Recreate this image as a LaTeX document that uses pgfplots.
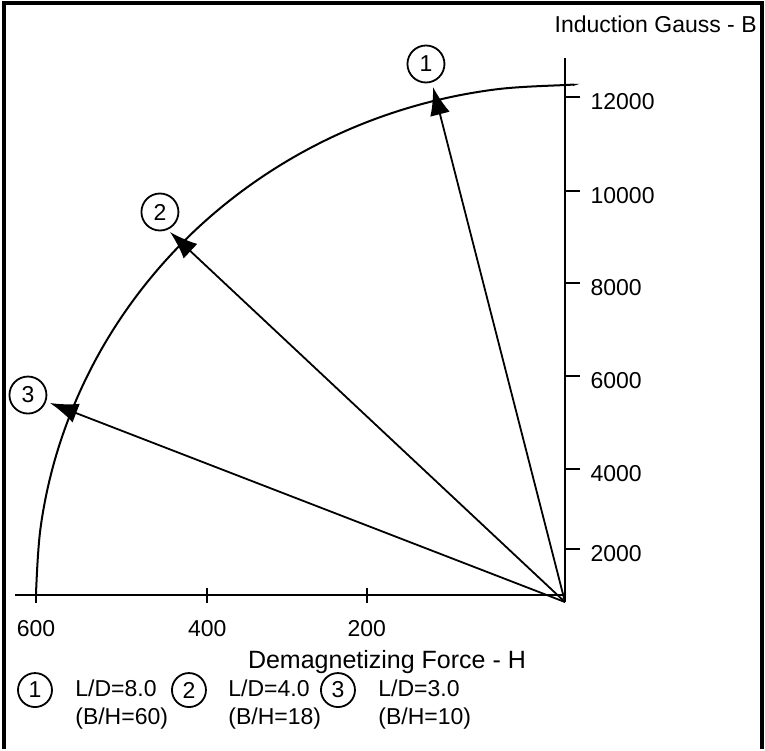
\documentclass[border=0pt]{standalone}
\usepackage{fontspec}
\setmainfont{Liberation Sans}
\usepackage{pgfplots}
\pgfplotsset{compat=1.18}
\usetikzlibrary{arrows.meta}
\begin{document}
\begin{tikzpicture}
\begin{axis}[
  x=0.440833pt, y=0.02075pt,
  x dir=reverse,
  xmin=0, xmax=623.8, ymin=-169, ymax=12940,
  axis lines=middle,
  axis line style={-, line width=1.2pt},
  clip=false,
  scaled x ticks=false, scaled y ticks=false,
  xtick={224.9,405.7,600}, xticklabels={200,400,600},
  ytick={1108,3036,5277,7518,9735,12000},
  yticklabels={2000,4000,6000,8000,10000,12000},
  major tick length=7.5pt,
  every tick/.style={black, line width=1.2pt},
  ytick style={xshift=3.75pt},
  yticklabel style={anchor=west, xshift=13pt, yshift=-2.5pt},
  xticklabel style={anchor=north, yshift=-5.5pt},
  tick label style={font=\fontsize{11.5}{13}\selectfont},
  /pgf/number format/assume math mode=true,
  font=\fontsize{11.5}{13}\selectfont,
]
% picture extent and frame
\path (axis cs:640.8,14337) rectangle (axis cs:-226.8,-3711);
\draw[line width=1.75pt] (axis cs:636.3,-3711) -- (axis cs:636.3,14265) -- (axis cs:-223.4,14265) -- (axis cs:-223.4,-3711);
% demagnetization curve (quarter arc)
\addplot[black, line width=1pt, smooth, tension=0.6] coordinates {
(600,0) (594.9,1604) (579.6,3181) (554.3,4703) (519.6,6145) (476.0,7481)
(424.3,8690) (365.3,9749) (300,10643) (229.6,11354) (155.3,11870)
(78.3,12184) (0,12289) (-9,12288)};
% load lines
\addplot[black, line width=0.9pt, -{Latex[length=14pt,width=10pt]}] coordinates {(0,-169) (149.7,12241)};
\addplot[black, line width=0.9pt, -{Latex[length=14pt,width=10pt]}] coordinates {(0,-169) (448.0,8747)};
\addplot[black, line width=0.9pt, -{Latex[length=14pt,width=10pt]}] coordinates {(0,-169) (584.1,4627)};
% markers
\node[circle, draw, line width=0.9pt, minimum size=18.5pt, inner sep=0pt] at (axis cs:157.7,12795) {1};
\node[circle, draw, line width=0.9pt, minimum size=18.5pt, inner sep=0pt] at (axis cs:459.4,9229) {2};
\node[circle, draw, line width=0.9pt, minimum size=18.5pt, inner sep=0pt] at (axis cs:609.1,4819) {3};
% axis titles
\node[anchor=east, inner sep=0pt] at (axis cs:-217.8,13759) {Induction Gauss - B};
\node[font=\fontsize{12.5}{14}\selectfont] at (axis cs:201.9,-1614) {Demagnetizing Force - H};
% key
\node[circle, draw, line width=0.9pt, minimum size=17pt, inner sep=0pt] at (axis cs:601.1,-2289) {1};
\node[circle, draw, line width=0.9pt, minimum size=17pt, inner sep=0pt] at (axis cs:426.5,-2289) {2};
\node[circle, draw, line width=0.9pt, minimum size=17pt, inner sep=0pt] at (axis cs:257.5,-2289) {3};
\node[anchor=west, align=left, inner sep=0pt, font=\fontsize{11.5}{14}\selectfont] at (axis cs:555.8,-2627) {L/D=8.0\\(B/H=60)};
\node[anchor=west, align=left, inner sep=0pt, font=\fontsize{11.5}{14}\selectfont] at (axis cs:382.2,-2627) {L/D=4.0\\(B/H=18)};
\node[anchor=west, align=left, inner sep=0pt, font=\fontsize{11.5}{14}\selectfont] at (axis cs:212.1,-2627) {L/D=3.0\\(B/H=10)};
\end{axis}
\end{tikzpicture}
\end{document}
